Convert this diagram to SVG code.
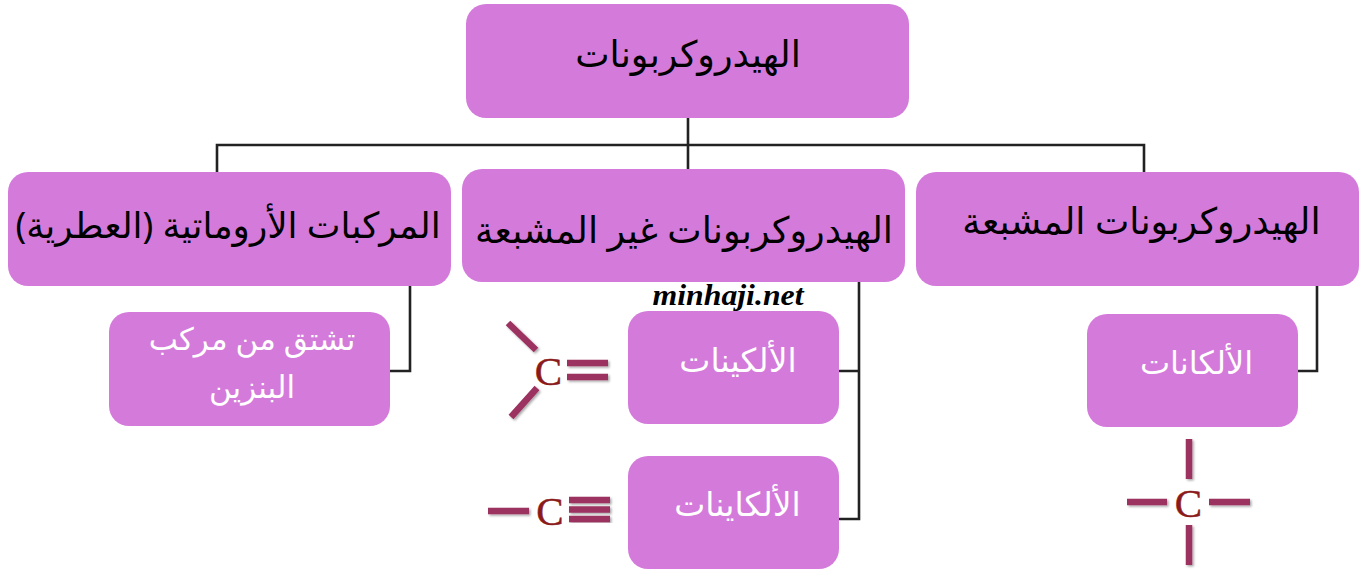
<svg xmlns="http://www.w3.org/2000/svg" width="1365" height="569" viewBox="0 0 1365 569">
<defs><filter id="s" x="-20%" y="-20%" width="140%" height="140%"><feDropShadow dx="1.5" dy="1.5" stdDeviation="1" flood-color="#000" flood-opacity=".35"/></filter></defs>
<style>
.n{fill:#d47adb}
.c{fill:none;stroke:#222;stroke-width:2.6}
text{font-family:"Noto Sans","DejaVu Sans",sans-serif;text-anchor:middle;direction:rtl}
.h{fill:#000;font-size:36.5px}
.a{fill:#000;font-size:35.8px}
.w{fill:#fff;font-size:31px}
.w2{fill:#fff;font-size:33px}
.b{stroke:#9b3060;stroke-width:6.5;fill:none;filter:url(#s)}
.cc{fill:#8b1a1a;font-family:"Liberation Serif",serif;font-size:41px;direction:ltr;stroke:#8b1a1a;stroke-width:.5}
.wm{font-family:"Liberation Serif",serif;font-style:italic;font-weight:bold;font-size:29px;fill:#000;direction:ltr}
</style>
<rect width="1365" height="569" fill="#fff"/>
<g id="connectors">
<path class="c" d="M688 117V172M217 172V145H1144V172"/>
<path class="c" d="M410 285V371H390"/>
<path class="c" d="M859 282V519H838M859 371H838"/>
<path class="c" d="M1317 285V371H1297"/>
</g>
<g id="root"><rect class="n" x="466" y="4" width="443" height="114" rx="20"/><text class="h" x="688" y="67">الهيدروكربونات</text></g>
<g id="aromatic"><rect class="n" x="8" y="172" width="443" height="114" rx="20"/><text class="a" x="228" y="238">المركبات الأروماتية (العطرية)</text></g>
<g id="unsaturated"><rect class="n" x="462" y="169" width="443" height="113" rx="20"/><text class="h" x="684" y="243">الهيدروكربونات غير المشبعة</text></g>
<g id="saturated"><rect class="n" x="916" y="172" width="443" height="114" rx="20"/><text class="h" x="1141.500" y="234">الهيدروكربونات المشبعة</text></g>
<g id="benzene"><rect class="n" x="109" y="312" width="281" height="114" rx="20"/><text class="w" x="252" y="350">تشتق من مركب</text><text class="w" x="252" y="398">البنزين</text></g>
<g id="alkenes"><rect class="n" x="628" y="311" width="211" height="113" rx="20"/><text class="w2" x="738" y="372">الألكينات</text></g>
<g id="alkynes"><rect class="n" x="628" y="456" width="211" height="113" rx="20"/><text class="w2" x="737.500" y="516">الألكاينات</text></g>
<g id="alkanes"><rect class="n" x="1087" y="314" width="211" height="113" rx="20"/><text class="w2" x="1196.500" y="374" style="font-size:32px">الألكانات</text></g>
<g id="alkene-formula"><path class="b" d="M508 323L536 350M537 388L511 417M567 363H608M567 377H608"/><text class="cc" x="548.500" y="385">C</text></g>
<g id="alkyne-formula"><path class="b" d="M488 511H529M569 500H610M569 509.500H610M569 519H610"/><text class="cc" x="550" y="525">C</text></g>
<g id="alkane-formula"><path class="b" d="M1189 439V479M1189 525V565M1127 502H1167M1209 502H1250"/><text class="cc" x="1188.500" y="517">C</text></g>
<g id="watermark"><text class="wm" x="728" y="305" textLength="151" lengthAdjust="spacingAndGlyphs">minhaji.net</text></g>
</svg>
